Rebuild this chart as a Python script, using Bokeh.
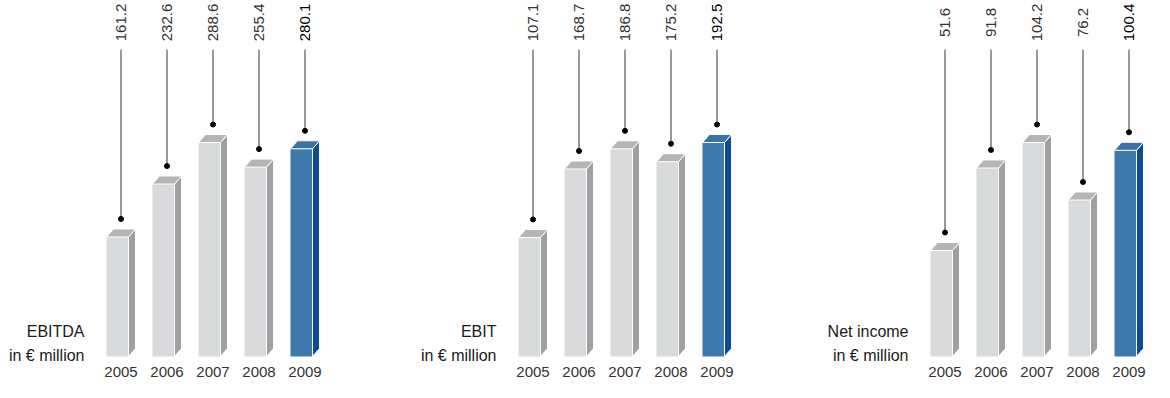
import math
from bokeh.plotting import figure
from bokeh.models import Range1d
from bokeh.core.properties import value
from bokeh.embed import file_html
from bokeh.resources import INLINE

# ---- data ----
years = ["2005", "2006", "2007", "2008", "2009"]
titles = ["EBITDA", "EBIT", "Net income"]
unit_label = "in € million"
ebitda = [161.2, 232.6, 288.6, 255.4, 280.1]
ebit = [107.1, 168.7, 186.8, 175.2, 192.5]
net_income = [51.6, 91.8, 104.2, 76.2, 100.4]
series = [ebitda, ebit, net_income]

# ---- layout / style ----
W, H = 1154, 382
BASE = 356          # baseline (px from top)
MAXH = 214          # px height of tallest bar in each panel
PANEL_DX = 412
FIRST_X = 106
STEP = 46
FW, SW, SKY = 22, 7, 8   # front width, side width, skew height
FONT = value("Liberation Sans")

GRAY = dict(front="#d9dadc", side="#9fa0a2", top="#b4b5b7")
BLUE = dict(front="#3f79ae", side="#0b4c93", top="#3b71a9")

p = figure(width=W, height=H, x_range=Range1d(0, W), y_range=Range1d(H, 0),
           x_axis_type=None, y_axis_type=None, output_backend="svg",
           toolbar_location=None, min_border=0)
p.grid.visible = False
p.outline_line_color = None
p.background_fill_color = "white"
p.border_fill_color = "white"

for pi, (title, vals) in enumerate(zip(titles, series)):
    k = max(vals) / MAXH
    name = f"r{pi}"
    p.extra_y_ranges[name] = Range1d(-(H - BASE) * k, BASE * k)
    n = len(vals)
    x0 = [FIRST_X + PANEL_DX * pi + i * STEP for i in range(n)]
    cols = [BLUE if i == n - 1 else GRAY for i in range(n)]
    dy = SKY * k

    # front faces
    p.vbar(x=[x + FW / 2 for x in x0], width=FW, bottom=0, top=vals,
           fill_color=[c["front"] for c in cols], line_color=None,
           y_range_name=name)
    # side faces
    p.patches(xs=[[x + FW, x + FW + SW, x + FW + SW, x + FW] for x in x0],
              ys=[[0, dy, v + dy, v] for v in vals],
              fill_color=[c["side"] for c in cols], line_color="white",
              line_width=1, y_range_name=name)
    # top faces
    p.patches(xs=[[x, x + SW, x + FW + SW, x + FW] for x in x0],
              ys=[[v, v + dy, v + dy, v] for v in vals],
              fill_color=[c["top"] for c in cols], line_color="white",
              line_width=1, y_range_name=name)

    cx = [x + (FW + SW) / 2 for x in x0]
    dot_y = [v + 18 * k for v in vals]
    top_y = (BASE - 49) * k
    p.segment(x0=cx, y0=dot_y, x1=cx, y1=[top_y] * n, line_color="#333333",
              line_width=1, y_range_name=name)
    p.scatter(x=cx, y=dot_y, size=5, fill_color="black", line_color="black",
              y_range_name=name)

    # value labels (rotated)
    p.text(x=cx, y=[22] * n, text=[f"{v:.1f}" for v in vals], angle=math.pi / 2,
           text_align="center", text_baseline="middle", text_font=FONT,
           text_font_size="15px",
           text_color=["#000000" if i == n - 1 else "#333333" for i in range(n)])
    # year labels
    p.text(x=cx, y=[371] * n, text=years, text_align="center",
           text_baseline="middle", text_font=FONT, text_font_size="15px",
           text_color="#333333")
    # titles
    tx = FIRST_X - 22 + PANEL_DX * pi
    p.text(x=[tx, tx], y=[331, 355], text=[title, unit_label], text_align="right",
           text_baseline="alphabetic", text_font=FONT, text_font_size="16px",
           text_color="#1a1a1a")

open("out.html", "w").write(file_html(p, INLINE))
